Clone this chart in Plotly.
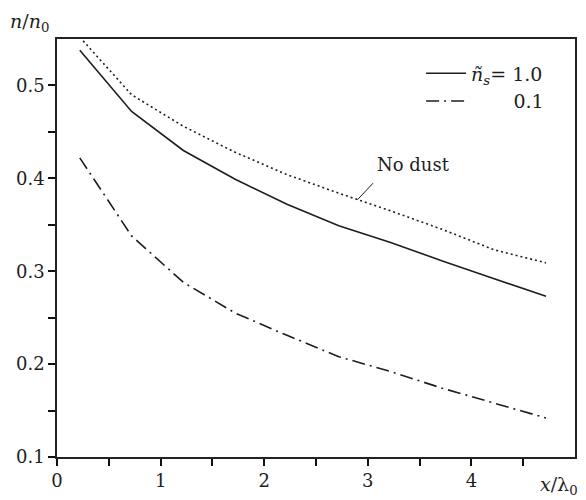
import plotly.graph_objects as go

# data
x_vals = [0.22, 0.72, 1.22, 1.72, 2.22, 2.72, 3.22, 3.72, 4.22, 4.72]
n_dust10 = [0.538, 0.472, 0.430, 0.399, 0.372, 0.349, 0.331, 0.311, 0.292, 0.273]
n_dust01 = [0.422, 0.338, 0.288, 0.255, 0.231, 0.208, 0.192, 0.174, 0.158, 0.142]
n_nodust = [0.552, 0.490, 0.456, 0.428, 0.404, 0.384, 0.365, 0.345, 0.323, 0.309]

# labelled ticks and all tick positions (labelled + minor)
x_ticks = [0, 1, 2, 3, 4]
x_tick_pos = [0, 0.5, 1, 1.5, 2, 2.5, 3, 3.5, 4, 4.5]
y_ticks = [0.1, 0.2, 0.3, 0.4, 0.5]
y_tick_pos = [0.1, 0.15, 0.2, 0.25, 0.3, 0.35, 0.4, 0.45, 0.5]

FONT = "'DejaVu Serif', 'Liberation Serif', serif"
INK = "#1e1e1e"

x_tick_text = [str(int(v)) if v in x_ticks else "" for v in x_tick_pos]
y_tick_text = [f"{v:.1f}" if any(abs(v - t) < 1e-9 for t in y_ticks) else "" for v in y_tick_pos]

fig = go.Figure()
fig.add_trace(go.Scatter(x=x_vals, y=n_nodust, mode="lines", showlegend=False,
                         line=dict(color=INK, width=1.6, dash="2px,3px")))
fig.add_trace(go.Scatter(x=x_vals, y=n_dust10, mode="lines",
                         name="<i>ñ</i><sub><i>s</i></sub>= 1.0",
                         line=dict(color=INK, width=1.6)))
fig.add_trace(go.Scatter(x=x_vals, y=n_dust01, mode="lines",
                         name="\u00a0" * 7 + "0.1",
                         line=dict(color=INK, width=1.6, dash="13px,5px,2px,5px")))

axis_common = dict(
    showgrid=False, zeroline=False, showline=True, linecolor="#222", linewidth=1.5,
    mirror=True, ticks="outside", ticklen=7, tickwidth=1.5, tickcolor="#111",
    tickfont=dict(family=FONT, size=18, color=INK),
)
fig.update_xaxes(range=[0, 5], tickmode="array", tickvals=x_tick_pos,
                 ticktext=x_tick_text, **axis_common)
fig.update_yaxes(range=[0.1, 0.55], tickmode="array", tickvals=y_tick_pos,
                 ticktext=y_tick_text, **axis_common)

fig.add_annotation(x=2.90, y=0.377, ax=17, ay=-18, text="", showarrow=True,
                   arrowhead=0, arrowwidth=1, arrowcolor=INK, xref="x", yref="y")
fig.add_annotation(x=3.44, y=0.415, text="No dust", showarrow=False,
                   font=dict(family=FONT, size=18, color=INK))
fig.add_annotation(xref="paper", yref="paper", x=-0.095, y=1.0, xanchor="left", yanchor="bottom",
                   yshift=2, text="<i>n</i>/<i>n</i><sub>0</sub>", showarrow=False,
                   font=dict(family=FONT, size=19, color=INK))
fig.add_annotation(xref="paper", yref="paper", x=1.01, y=0.0, xanchor="right", yanchor="top",
                   yshift=-14, text="<i>x</i>/λ<sub>0</sub>", showarrow=False,
                   font=dict(family=FONT, size=19, color=INK))

fig.update_layout(
    width=586, height=500,
    margin=dict(l=57, r=9, t=39, b=43),
    paper_bgcolor="white", plot_bgcolor="white",
    font=dict(family=FONT, size=18, color=INK),
    legend=dict(x=0.95, y=0.963, xanchor="right", yanchor="top",
                bgcolor="rgba(0,0,0,0)", font=dict(family=FONT, size=19, color=INK),
                itemwidth=40, tracegroupgap=0),
)

fig.write_html("out.html")
